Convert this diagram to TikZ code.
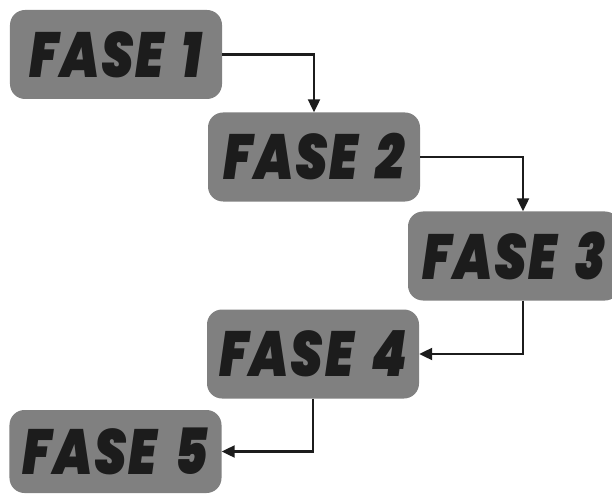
\documentclass[tikz,border=0pt]{standalone}
\usepackage{fontspec}
\newfontfamily\fasefont{Poppins Black Italic}[LetterSpace=3]
\usetikzlibrary{arrows.meta}
\definecolor{boxgray}{RGB}{128,128,128}
\definecolor{textblack}{RGB}{28,28,28}
\tikzset{
  fasebox/.style={fill=boxgray, rounded corners=15bp, minimum width=212bp, minimum height=89bp, inner sep=0pt, font=\fasefont\fontsize{64}{64}\selectfont, text=textblack},
  link/.style={line width=2.2bp, draw=textblack, -{Triangle[length=13bp,width=12bp]}}
}
\newcommand{\fasetext}[1]{\scalebox{0.8}[1]{FASE\hspace{22bp}#1}}
\begin{document}
\begin{tikzpicture}[x=1bp,y=-1bp]
\useasboundingbox (0,0) rectangle (612,495);
\clip (0,0) rectangle (612,495);
\node[fasebox] (b1) at (116,54.5) {\fasetext{1}};
\node[fasebox] (b2) at (314,157) {\fasetext{2}};
\node[fasebox] (b3) at (514,256) {\fasetext{3}};
\node[fasebox] (b4) at (313,354) {\fasetext{4}};
\node[fasebox, minimum height=83bp] (b5) at (115.5,451.5) {\fasetext{5}};
\draw[link] (b1.east) -| (b2.north);
\draw[link] (b2.east) -| ([xshift=9bp]b3.north);
\draw[link] ([xshift=9bp]b3.south) |- (b4.east);
\draw[link] (b4.south) |- (b5.east);
\end{tikzpicture}
\end{document}
